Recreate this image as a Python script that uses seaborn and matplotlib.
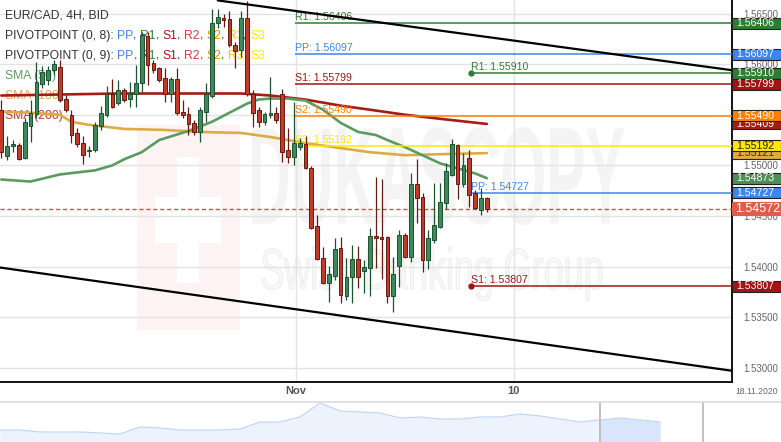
import matplotlib
matplotlib.use("Agg")
import matplotlib.pyplot as plt
import matplotlib.transforms as mtransforms
from matplotlib.patches import Rectangle, PathPatch
from matplotlib.textpath import TextPath
from matplotlib.font_manager import FontProperties
import seaborn as sns
import pandas as pd

# EUR/CAD 4H candles (index 0 = leftmost candle)
opens = [1.5555, 1.5509, 1.5519, 1.5520, 1.5507, 1.5539, 1.5551, 1.5580, 1.5584, 1.5594,
         1.5597, 1.5566, 1.5550, 1.5532, 1.5522, 1.5514, 1.5515, 1.5539, 1.5550, 1.5571,
         1.5562, 1.5574, 1.5566, 1.5571, 1.5581, 1.5628, 1.5601, 1.5596, 1.5586, 1.5571,
         1.5585, 1.5553, 1.5551, 1.5542, 1.5533, 1.5553, 1.5569, 1.5641, 1.5646, 1.5645,
         1.5619, 1.5614, 1.5646, 1.5571, 1.5555, 1.5543, 1.5550, 1.5552, 1.5571, 1.5515,
         1.5508, 1.5518, 1.5521, 1.5497, 1.5440, 1.5408, 1.5384, 1.5391, 1.5418, 1.5371,
         1.5390, 1.5407, 1.5396, 1.5399, 1.5430, 1.5429, 1.5429, 1.5371, 1.5401, 1.5431,
         1.5409, 1.5482, 1.5469, 1.5406, 1.5426, 1.5439, 1.5463, 1.5490, 1.5520, 1.5482,
         1.5507, 1.5473, 1.5456, 1.5468]
highs = [1.5565, 1.5529, 1.5525, 1.5522, 1.5547, 1.5565, 1.5602, 1.5598, 1.5598, 1.5604,
         1.5604, 1.5570, 1.5555, 1.5537, 1.5529, 1.5519, 1.5543, 1.5559, 1.5578, 1.5585,
         1.5584, 1.5576, 1.5582, 1.5599, 1.5632, 1.5632, 1.5604, 1.5597, 1.5596, 1.5587,
         1.5596, 1.5565, 1.5558, 1.5545, 1.5558, 1.5581, 1.5655, 1.5655, 1.5650, 1.5653,
         1.5622, 1.5653, 1.5662, 1.5574, 1.5558, 1.5553, 1.5587, 1.5558, 1.5575, 1.5537,
         1.5563, 1.5527, 1.5529, 1.5499, 1.5451, 1.5419, 1.5401, 1.5428, 1.5429, 1.5408,
         1.5421, 1.5420, 1.5406, 1.5438, 1.5488, 1.5487, 1.5430, 1.5409, 1.5436, 1.5433,
         1.5492, 1.5506, 1.5473, 1.5436, 1.5483, 1.5483, 1.5502, 1.5526, 1.5521, 1.5512,
         1.5515, 1.5476, 1.5478, 1.5469]
lows = [1.5507, 1.5505, 1.5513, 1.5505, 1.5506, 1.5523, 1.5547, 1.5576, 1.5579, 1.5589,
        1.5563, 1.5553, 1.5522, 1.5518, 1.5501, 1.5508, 1.5513, 1.5535, 1.5548, 1.5557,
        1.5560, 1.5563, 1.5558, 1.5558, 1.5572, 1.5579, 1.5591, 1.5582, 1.5563, 1.5563,
        1.5550, 1.5547, 1.5530, 1.5530, 1.5523, 1.5543, 1.5567, 1.5636, 1.5637, 1.5617,
        1.5596, 1.5607, 1.5569, 1.5538, 1.5538, 1.5540, 1.5547, 1.5542, 1.5503, 1.5502,
        1.5500, 1.5515, 1.5496, 1.5437, 1.5406, 1.5383, 1.5365, 1.5387, 1.5364, 1.5367,
        1.5364, 1.5379, 1.5374, 1.5371, 1.5399, 1.5388, 1.5364, 1.5355, 1.5380, 1.5408,
        1.5404, 1.5443, 1.5395, 1.5398, 1.5423, 1.5438, 1.5457, 1.5489, 1.5467, 1.5479,
        1.5459, 1.5457, 1.5451, 1.5454]
closes = [1.5513, 1.5519, 1.5521, 1.5506, 1.5543, 1.5552, 1.5582, 1.5592, 1.5594, 1.5600,
          1.5565, 1.5555, 1.5530, 1.5521, 1.5510, 1.5515, 1.5540, 1.5552, 1.5571, 1.5558,
          1.5574, 1.5565, 1.5571, 1.5581, 1.5629, 1.5599, 1.5594, 1.5584, 1.5571, 1.5585,
          1.5552, 1.5550, 1.5541, 1.5533, 1.5555, 1.5571, 1.5641, 1.5647, 1.5644, 1.5619,
          1.5613, 1.5646, 1.5571, 1.5552, 1.5543, 1.5551, 1.5552, 1.5545, 1.5513, 1.5508,
          1.5522, 1.5522, 1.5497, 1.5438, 1.5407, 1.5384, 1.5393, 1.5417, 1.5372, 1.5390,
          1.5407, 1.5390, 1.5400, 1.5430, 1.5428, 1.5427, 1.5371, 1.5393, 1.5431, 1.5409,
          1.5482, 1.5468, 1.5406, 1.5428, 1.5441, 1.5464, 1.5494, 1.5521, 1.5482, 1.5500,
          1.5471, 1.5458, 1.5468, 1.54572]

# moving averages, sampled at candle indices
sma50_idx = [0, 5, 10, 16, 19, 21, 24, 27, 32, 36, 39, 42, 44, 46, 49, 52, 55, 58, 61, 64,
             66, 69, 72, 75, 78, 81, 83]
sma50_val = [1.5486, 1.5484, 1.5491, 1.5495, 1.5500, 1.5506, 1.5513, 1.5525, 1.5534, 1.5543,
             1.5552, 1.5561, 1.5565, 1.5566, 1.5566, 1.5564, 1.5555, 1.5542, 1.5533, 1.5530,
             1.5525, 1.5518, 1.5510, 1.5502, 1.5497, 1.5492, 1.54873]
sma100_idx = [0, 5, 10, 12, 15, 21, 28, 34, 41, 46, 52, 58, 63, 69, 75, 83]
sma100_val = [1.5553, 1.5552, 1.5550, 1.5543, 1.5540, 1.5536, 1.5535, 1.5533, 1.5532, 1.5528,
              1.5522, 1.5517, 1.5513, 1.5510, 1.5511, 1.55121]
sma200_idx = [0, 10, 20, 31, 41, 46, 52, 58, 63, 69, 75, 83]
sma200_val = [1.5569, 1.5570, 1.5571, 1.5571, 1.5571, 1.5569, 1.5565, 1.5559, 1.5555, 1.5550,
              1.5546, 1.55409]

# pivot points
piv1_names = ["R1", "PP", "S1", "S2", "S3"]
piv1_vals = [1.56406, 1.56097, 1.55799, 1.55490, 1.55192]
piv2_names = ["R1", "PP", "S1"]
piv2_vals = [1.55910, 1.54727, 1.53807]
piv_start = [50.2, 80.3]

last_price = 1.54572

# channel trend lines (candle index, price)
upper_ch_idx = [37.0, 124.9]
upper_ch_val = [1.5663, 1.5594]
lower_ch_idx = [-0.2, 124.9]
lower_ch_val = [1.5399, 1.5297]

price_ticks = [1.530, 1.535, 1.540, 1.545, 1.550, 1.555, 1.560, 1.565]
x_tick_idx = [50.4, 87.6]
x_tick_lbl = ["Nov", "10"]
end_date = "18.11.2020"

# navigator overview (relative level of the long history)
nav_level = [12, 12, 10, 10, 10, 9, 8, 15, 14, 12, 12, 12, 13, 20, 20, 25, 39, 31, 30, 29,
             24, 25, 23, 23, 25, 25, 28, 26, 23, 20, 22, 24, 22, 20]

col = {"R1": "#2e7d32", "PP": "#3d85f0", "S1": "#a31515", "R2": "#e53935",
       "S2": "#ff8000", "R3": "#ffc400", "S3": "#ffe800"}
c50, c100, c200 = "#5b9b60", "#deaa44", "#a61c12"

sns.set_theme(style="white")
plt.rcParams["font.family"] = ["Liberation Sans", "DejaVu Sans"]

W, H = 781, 442
fig = plt.figure(figsize=(W / 100, H / 100), dpi=100)
ax = fig.add_axes([0, 1 - 382 / H, 732 / W, 382 / H])
px = mtransforms.Affine2D().scale(1 / W, -1 / H).translate(0, 1) + fig.transFigure
pxup = mtransforms.Affine2D().scale(1 / W, 1 / H) + fig.transFigure

# watermark
ax.add_patch(Rectangle((137, 125), 103, 205, transform=px, fc="#fef3f3", ec="none", zorder=0))
ax.add_patch(Rectangle((177, 157), 22, 126, transform=px, fc="white", ec="none", zorder=0))
ax.add_patch(Rectangle((155, 197), 66, 46, transform=px, fc="white", ec="none", zorder=0))


def stretched_text(s, x0, y0, w, h, weight, fc, ec):
    tp = TextPath((0, 0), s, size=1, prop=FontProperties(family="Liberation Sans", weight=weight))
    e = tp.get_extents()
    tr = (mtransforms.Affine2D().translate(-e.x0, -e.y0).scale(w / e.width, h / e.height)
          .translate(x0, H - y0 - h) + pxup)
    ax.add_patch(PathPatch(tp, transform=tr, fc=fc, ec=ec, lw=0.8, zorder=0.5))


stretched_text("DUKASCOPY", 252, 127, 372, 98, "bold", "#f4f4f4", "none")
stretched_text("Swiss Banking Group", 262, 247, 340, 54, "normal", "#f8f8f8", "#efefef")

df = pd.DataFrame({"open": opens, "high": highs, "low": lows, "close": closes})
df["idx"] = range(len(df))
df["up"] = df["close"] >= df["open"]

# moving averages
for idx, val, c in [(sma200_idx, sma200_val, c200), (sma100_idx, sma100_val, c100),
                    (sma50_idx, sma50_val, c50)]:
    sns.lineplot(x=idx, y=val, ax=ax, color=c, lw=1.9, zorder=3)

# candles
for up, g in df.groupby("up"):
    body, edge = ("#3b8a58", "#1c5230") if up else ("#c23b2a", "#661a10")
    ax.vlines(g["idx"], g["low"], g["high"], color=edge, lw=0.9, zorder=4)
    height = (g["close"] - g["open"]).abs().clip(lower=0.00004)
    bottom = g[["open", "close"]].min(axis=1)
    ax.bar(g["idx"], height, bottom=bottom, width=0.64, color=body, edgecolor=edge,
           linewidth=0.7, zorder=5)

xmax = 124.9
ax.set_xlim(-0.22, xmax)
ax.set_ylim(1.52859, 1.56634)

# channel
ax.plot(upper_ch_idx, upper_ch_val, color="black", lw=1.6, zorder=6)
ax.plot(lower_ch_idx, lower_ch_val, color="black", lw=1.6, zorder=6)

# pivots
for names, vals, start in [(piv1_names, piv1_vals, piv_start[0]), (piv2_names, piv2_vals, piv_start[1])]:
    for n, v in zip(names, vals):
        ax.hlines(v, start, xmax, color=col[n], lw=1.1, zorder=3)
        ax.text(start, v + 0.00012, f"{n}: {v:.5f}", color=col[n], fontsize=7.6,
                va="bottom", ha="left", zorder=3)
for n, v in zip(piv2_names, piv2_vals):
    if n != "PP":
        ax.plot([piv_start[1]], [v], "o", color=col[n], ms=3.5, zorder=3)

ax.axhline(last_price, color="#d9503f", lw=1, ls=(0, (3, 2)), zorder=3)

# axes styling
ax.set_yticks(price_ticks)
ax.yaxis.set_major_formatter(matplotlib.ticker.FormatStrFormatter("%.5f"))
ax.yaxis.tick_right()
ax.tick_params(axis="y", length=0, pad=8, labelsize=7, labelcolor="#666666")
ax.set_xticks(x_tick_idx, x_tick_lbl)
ax.tick_params(axis="x", length=0, pad=3, labelsize=8, labelcolor="#555555")
for t in ax.get_xticklabels():
    t.set_fontweight("bold")
ax.grid(True, color="#e3e3e3", lw=1)
ax.set_axisbelow(True)
ax.set_xlabel("")
ax.set_ylabel("")
for s in ["left", "top"]:
    ax.spines[s].set_visible(False)
for s in ["bottom", "right"]:
    ax.spines[s].set_color("black")
    ax.spines[s].set_linewidth(1.3)

# price boxes on the right scale
trans = mtransforms.blended_transform_factory(ax.transAxes, ax.transData)
boxes = [(piv1_vals[0], col["R1"], "white"), (piv1_vals[1], col["PP"], "white"),
         (piv2_vals[0], col["R1"], "white"), (piv1_vals[2], col["S1"], "white"),
         (sma200_val[-1], c200, "white"), (piv1_vals[3], col["S2"], "white"),
         (sma100_val[-1], c100, "#333333"), (piv1_vals[4], col["S3"], "#222222"),
         (sma50_val[-1], "#4f8f55", "white"), (piv2_vals[1], col["PP"], "white"),
         (piv2_vals[2], col["S1"], "white")]
hh = 11 / 10119
for k, (v, fc, tc) in enumerate(boxes):
    ax.add_patch(Rectangle((1.0, v - hh / 2), 49 / 732, hh, transform=trans, clip_on=False,
                           fc=fc, ec="#222222", lw=0.8, zorder=10 + k))
    ax.text(1.0 + 4 / 732, v, f"{v:.5f}", transform=trans, color=tc, fontsize=7.6,
            va="center", ha="left", zorder=10 + k, clip_on=False)
hl = 13 / 10119
ax.add_patch(Rectangle((1.0, last_price - hl / 2), 50 / 732, hl, transform=trans, clip_on=False,
                       fc="#de5c48", ec="#de5c48", lw=0.8, zorder=30))
ax.text(1.0 + 3 / 732, last_price, f"{last_price:.5f}", transform=trans, color="white",
        fontsize=9, va="center", ha="left", zorder=31, clip_on=False)

fig.text(778 / W, 1 - 392 / H, end_date, fontsize=6.2, color="#666666", ha="right", va="center")

# legend lines at the top left
def colored_line(y, parts, size=8.7):
    prev = None
    for txt, c in parts:
        if prev is None:
            prev = ax.text(5, y, txt, transform=px, color=c, fontsize=size, va="center",
                           ha="left", zorder=2)
        else:
            prev = ax.annotate(txt, xy=(1, 0), xycoords=prev, va="bottom", ha="left",
                               color=c, fontsize=size, zorder=2)


dark = "#333333"
piv_parts = [("PP", col["PP"]), ("R1", col["R1"]), ("S1", col["S1"]), ("R2", col["R2"]),
             ("S2", col["S2"]), ("R3", col["R3"]), ("S3", col["S3"])]
colored_line(16, [("EUR/CAD, 4H, BID", dark)])
for y, nm in [(36, "PIVOTPOINT (0, 8): "), (56, "PIVOTPOINT (0, 9): ")]:
    parts = [(nm, dark)]
    for j, p in enumerate(piv_parts):
        parts.append(p)
        if j < len(piv_parts) - 1:
            parts.append((", ", dark))
    colored_line(y, parts)
colored_line(76, [("SMA (50)", c50)])
colored_line(96, [("SMA (100)", c100)])
colored_line(116, [("SMA (200)", "#c0392b")])

# navigator
nav = fig.add_axes([0, 0, 1, 40 / H])
nav_x = list(range(len(nav_level)))
nav.fill_between(nav_x, 0, nav_level, color="#edf3fd", lw=0)
nav.fill_between(nav_x[30:], 0, nav_level[30:], color="#d8e5fa", lw=0)
sns.lineplot(x=nav_x, y=nav_level, ax=nav, color="#c3d6f5", lw=0.9)
nav.axvline(30, color="#b5b5b5", lw=1.2)
nav.axvline(35.15, color="#b5b5b5", lw=1.2)
nav.set_xlim(0, W / 20)
nav.set_ylim(0, 40)
nav.set_xticks([])
nav.set_yticks([])
nav.set_xlabel("")
nav.set_ylabel("")
for s in ["left", "right", "bottom"]:
    nav.spines[s].set_visible(False)
nav.spines["top"].set_color("#dddddd")

fig.savefig("out.png", dpi=100)
